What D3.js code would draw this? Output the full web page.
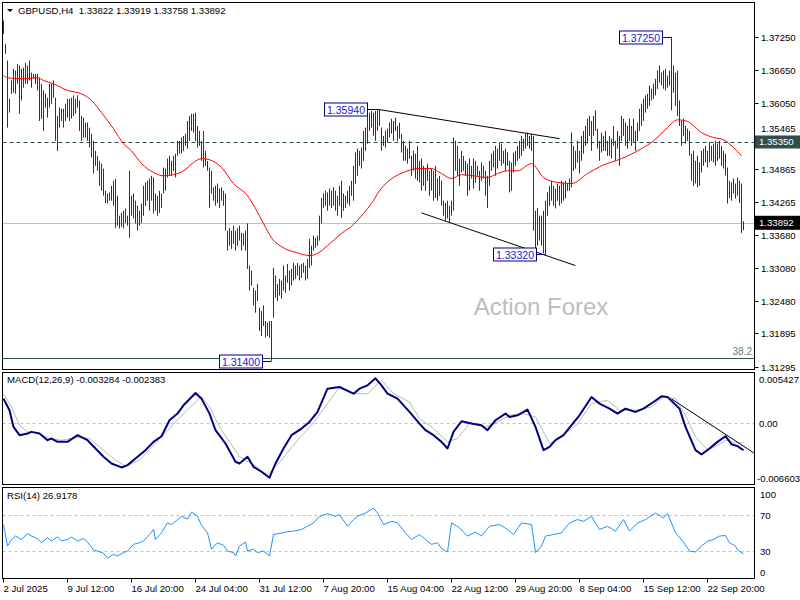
<!DOCTYPE html>
<html><head><meta charset="utf-8">
<script src="https://cdn.jsdelivr.net/npm/d3@7"></script>
<style>
body{margin:0;background:#fff}
svg{display:block}
text{font-family:"Liberation Sans",Arial,sans-serif}
</style>
</head><body>
<svg id="c" width="800" height="600"></svg>
<script>
// ---------------- DATA ----------------
const symbol = "GBPUSD,H4";
const lastOHLC = ["1.33822","1.33919","1.33758","1.33892"];
const highs = [
1.3754,1.3712,1.3682,1.3613,1.3646,1.3667,1.3664,1.3676,1.3673,1.3667,
1.3669,1.3678,1.3673,1.3682,1.3660,1.3658,1.3658,1.3658,1.3651,1.3640,
1.3628,1.3622,1.3615,1.3640,1.3640,1.3646,1.3615,1.3582,1.3597,1.3595,
1.3595,1.3604,1.3613,1.3613,1.3615,1.3619,1.3613,1.3619,1.3610,1.3582,
1.3579,1.3570,1.3570,1.3561,1.3550,1.3537,1.3519,1.3510,1.3501,1.3496,
1.3487,1.3447,1.3442,1.3444,1.3456,1.3465,1.3469,1.3438,1.3402,1.3407,
1.3411,1.3415,1.3402,1.3483,1.3438,1.3442,1.3429,1.3420,1.3411,1.3424,
1.3456,1.3462,1.3465,1.3469,1.3474,1.3471,1.3442,1.3438,1.3447,1.3442,
1.3489,1.3487,1.3505,1.3510,1.3501,1.3510,1.3514,1.3537,1.3537,1.3543,
1.3546,1.3550,1.3573,1.3582,1.3586,1.3586,1.3588,1.3564,1.3555,1.3537,
1.3555,1.3519,1.3501,1.3489,1.3483,1.3453,1.3456,1.3460,1.3451,1.3453,
1.3447,1.3442,1.3375,1.3380,1.3375,1.3384,1.3375,1.3379,1.3384,1.3371,
1.3370,1.3375,1.3388,1.3312,1.3303,1.3272,1.3267,1.3279,1.3236,1.3230,
1.3240,1.3212,1.3209,1.3212,1.3212,1.3308,1.3294,1.3279,1.3288,1.3285,
1.3312,1.3294,1.3315,1.3303,1.3306,1.3317,1.3312,1.3317,1.3312,1.3315,
1.3317,1.3312,1.3324,1.3360,1.3348,1.3366,1.3362,1.3366,1.3402,1.3434,
1.3442,1.3447,1.3444,1.3451,1.3447,1.3453,1.3447,1.3438,1.3456,1.3465,
1.3442,1.3438,1.3447,1.3456,1.3465,1.3492,1.3516,1.3523,1.3519,1.3525,
1.3555,1.3561,1.3586,1.3588,1.3591,1.3588,1.3591,1.3594,1.3593,1.3561,
1.3546,1.3555,1.3559,1.3570,1.3577,1.3573,1.3579,1.3564,1.3570,1.3550,
1.3537,1.3528,1.3523,1.3537,1.3510,1.3519,1.3514,1.3528,1.3501,1.3505,
1.3492,1.3487,1.3496,1.3483,1.3487,1.3483,1.3492,1.3469,1.3474,1.3465,
1.3429,1.3425,1.3429,1.3420,1.3429,1.3543,1.3537,1.3528,1.3505,1.3519,
1.3510,1.3501,1.3496,1.3505,1.3492,1.3505,1.3501,1.3492,1.3483,1.3498,
1.3492,1.3483,1.3474,1.3501,1.3514,1.3519,1.3528,1.3523,1.3534,1.3532,
1.3519,1.3523,1.3516,1.3501,1.3498,1.3516,1.3519,1.3528,1.3537,1.3546,
1.3541,1.3550,1.3552,1.3546,1.3550,1.3546,1.3411,1.3416,1.3402,1.3402,
1.3411,1.3429,1.3444,1.3456,1.3465,1.3456,1.3451,1.3460,1.3456,1.3465,
1.3462,1.3465,1.3460,1.3469,1.3552,1.3528,1.3519,1.3537,1.3519,1.3546,
1.3555,1.3564,1.3577,1.3582,1.3573,1.3582,1.3592,1.3559,1.3537,1.3552,
1.3546,1.3555,1.3537,1.3546,1.3541,1.3564,1.3537,1.3555,1.3546,1.3582,
1.3577,1.3570,1.3564,1.3577,1.3564,1.3577,1.3555,1.3570,1.3595,1.3604,
1.3613,1.3619,1.3622,1.3637,1.3631,1.3640,1.3649,1.3664,1.3673,1.3660,
1.3664,1.3667,1.3655,1.3664,1.3725,1.3673,1.3660,1.3664,1.3610,1.3573,
1.3577,1.3564,1.3559,1.3555,1.3514,1.3519,1.3501,1.3510,1.3498,1.3519,
1.3523,1.3528,1.3519,1.3534,1.3528,1.3532,1.3537,1.3532,1.3537,1.3528,
1.3519,1.3514,1.3489,1.3465,1.3462,1.3469,1.3460,1.3471,1.3465,1.3460,
1.33919];
const lows = [
1.3730,1.3694,1.3561,1.3588,1.3622,1.3624,1.3622,1.3640,1.3586,1.3610,
1.3633,1.3640,1.3640,1.3646,1.3633,1.3649,1.3640,1.3628,1.3573,1.3577,
1.3555,1.3597,1.3579,1.3597,1.3604,1.3615,1.3537,1.3519,1.3561,1.3573,
1.3561,1.3573,1.3579,1.3573,1.3577,1.3582,1.3586,1.3597,1.3555,1.3537,
1.3543,1.3543,1.3537,1.3525,1.3507,1.3478,1.3492,1.3483,1.3456,1.3447,
1.3438,1.3425,1.3424,1.3429,1.3429,1.3420,1.3380,1.3384,1.3379,1.3382,
1.3379,1.3389,1.3384,1.3362,1.3402,1.3397,1.3388,1.3375,1.3384,1.3389,
1.3402,1.3420,1.3429,1.3411,1.3429,1.3406,1.3411,1.3402,1.3407,1.3416,
1.3442,1.3447,1.3471,1.3474,1.3474,1.3483,1.3471,1.3510,1.3514,1.3514,
1.3519,1.3528,1.3523,1.3537,1.3555,1.3552,1.3537,1.3525,1.3528,1.3501,
1.3489,1.3492,1.3483,1.3416,1.3442,1.3429,1.3420,1.3425,1.3416,1.3429,
1.3420,1.3375,1.3339,1.3348,1.3342,1.3351,1.3339,1.3348,1.3357,1.3339,
1.3348,1.3339,1.3306,1.3267,1.3276,1.3240,1.3227,1.3248,1.3194,1.3185,
1.3203,1.3182,1.3185,1.3182,1.3140,1.3218,1.3254,1.3248,1.3258,1.3252,
1.3267,1.3263,1.3281,1.3267,1.3276,1.3285,1.3288,1.3294,1.3285,1.3290,
1.3299,1.3285,1.3288,1.3308,1.3312,1.3339,1.3344,1.3348,1.3357,1.3388,
1.3416,1.3420,1.3411,1.3420,1.3416,1.3420,1.3411,1.3402,1.3420,1.3398,
1.3411,1.3416,1.3424,1.3420,1.3438,1.3429,1.3460,1.3474,1.3492,1.3487,
1.3501,1.3519,1.3532,1.3555,1.3561,1.3546,1.3537,1.3555,1.3564,1.3519,
1.3528,1.3525,1.3534,1.3543,1.3550,1.3537,1.3555,1.3537,1.3541,1.3516,
1.3501,1.3501,1.3496,1.3505,1.3474,1.3483,1.3469,1.3465,1.3462,1.3447,
1.3456,1.3447,1.3465,1.3438,1.3447,1.3429,1.3434,1.3429,1.3438,1.3420,
1.3402,1.3393,1.3397,1.3389,1.3402,1.3411,1.3483,1.3474,1.3456,1.3480,
1.3483,1.3474,1.3438,1.3447,1.3469,1.3451,1.3462,1.3474,1.3447,1.3465,
1.3469,1.3438,1.3416,1.3456,1.3483,1.3489,1.3474,1.3487,1.3501,1.3492,
1.3496,1.3483,1.3492,1.3444,1.3447,1.3480,1.3492,1.3501,1.3505,1.3510,
1.3519,1.3523,1.3528,1.3523,1.3519,1.3375,1.3334,1.3348,1.3357,1.3348,
1.3334,1.3332,1.3402,1.3420,1.3429,1.3420,1.3415,1.3429,1.3420,1.3424,
1.3429,1.3433,1.3447,1.3447,1.3453,1.3483,1.3487,1.3498,1.3478,1.3501,
1.3514,1.3528,1.3532,1.3546,1.3519,1.3546,1.3555,1.3523,1.3501,1.3516,
1.3519,1.3519,1.3510,1.3510,1.3505,1.3528,1.3501,1.3523,1.3492,1.3537,
1.3546,1.3528,1.3523,1.3537,1.3528,1.3534,1.3519,1.3537,1.3555,1.3564,
1.3573,1.3588,1.3595,1.3600,1.3610,1.3613,1.3619,1.3631,1.3642,1.3637,
1.3631,1.3628,1.3633,1.3637,1.3592,1.3624,1.3600,1.3582,1.3564,1.3528,
1.3546,1.3532,1.3537,1.3510,1.3465,1.3456,1.3460,1.3453,1.3456,1.3480,
1.3492,1.3498,1.3489,1.3498,1.3501,1.3498,1.3492,1.3501,1.3505,1.3492,
1.3487,1.3474,1.3424,1.3434,1.3429,1.3442,1.3433,1.3438,1.3425,1.3371,
1.33758];

// moving average (red) read at selected bars
const maIdx = [0,2,9,17,20,25,32,39,44,49,55,60,64,69,75,80,85,90,95,99,103,109,115,122,126,130,134,140,147,153,157,162,169,175,180,184,188,195,200,207,214,219,224,229,235,242,247,252,257,264,270,277,284,292,299,309,319,325,332,337,342,349,355,360,365,369];
const maVal = [1.3655,1.3651,1.3649,1.3651,1.3646,1.3640,1.3628,1.3622,1.3610,1.3588,1.3559,1.3532,1.3519,1.3496,1.3480,1.3474,1.3476,1.3483,1.3498,1.3505,1.3503,1.3489,1.3460,1.3438,1.3415,1.3388,1.3362,1.3344,1.3335,1.3330,1.3334,1.3348,1.3370,1.3386,1.3406,1.3424,1.3447,1.3471,1.3480,1.3487,1.3487,1.3478,1.3469,1.3476,1.3474,1.3471,1.3478,1.3483,1.3483,1.3496,1.3471,1.3462,1.3460,1.3478,1.3492,1.3505,1.3523,1.3537,1.3561,1.3575,1.3572,1.3552,1.3543,1.3539,1.3525,1.3510];

// MACD main line
const macdIdx = [0,3,5,8,12,14,18,22,24,27,32,37,42,46,50,54,59,62,66,71,75,79,83,87,90,96,99,103,106,111,116,118,122,125,129,133,136,140,144,149,153,157,162,168,175,178,182,186,189,192,197,203,208,211,215,219,222,225,229,234,239,242,246,251,253,257,262,266,270,273,276,280,284,288,294,298,303,307,311,316,320,325,329,332,338,341,346,349,353,357,361,364,367,370];
const macdVal = [0.002964,0.001557,-0.000455,-0.001460,-0.001259,-0.001058,-0.001259,-0.002064,-0.001862,-0.002265,-0.002265,-0.001460,-0.002064,-0.003070,-0.004075,-0.004879,-0.005362,-0.005081,-0.004276,-0.003271,-0.002265,-0.001581,0.000350,0.001155,0.002160,0.003649,0.002964,0.001155,-0.000857,-0.002466,-0.004678,-0.004879,-0.004075,-0.005282,-0.005885,-0.006603,-0.004879,-0.003070,-0.001460,-0.000656,0.000149,0.001356,0.004172,0.004373,0.003568,0.004172,0.004574,0.005427,0.004574,0.003568,0.002964,0.001356,-0.000053,-0.000857,-0.001460,-0.002265,-0.003070,-0.001058,0.000228,-0.000053,-0.000254,-0.000857,0.000350,0.001155,0.000752,0.000953,0.001637,-0.000455,-0.003271,-0.002868,-0.002064,-0.001460,-0.000254,0.000953,0.003166,0.002361,0.001758,0.001155,0.001758,0.001356,0.001758,0.002562,0.003246,0.003166,0.001758,-0.000455,-0.003271,-0.003794,-0.003070,-0.002265,-0.001581,-0.002546,-0.002787,-0.003284];
// MACD signal line
const sigIdx = [0,4,8,12,17,23,29,37,43,50,56,61,68,75,83,90,99,103,108,113,118,126,132,139,147,154,162,168,175,182,189,195,203,208,215,222,227,233,241,247,253,260,266,273,279,287,294,302,308,316,324,330,336,341,346,352,355,361,366,370];
const sigVal = [0.003568,0.001958,-0.000254,-0.001058,-0.001179,-0.001862,-0.002064,-0.001742,-0.001862,-0.003271,-0.004478,-0.005202,-0.004478,-0.002666,-0.000656,0.001155,0.003246,0.001958,-0.000455,-0.002265,-0.004075,-0.005202,-0.006288,-0.004478,-0.002064,-0.000254,0.002361,0.004373,0.003568,0.003568,0.005177,0.003568,0.002562,0.000551,-0.000656,-0.002265,-0.001862,-0.000053,-0.000455,0.000149,0.000953,0.001155,0.000752,-0.002466,-0.001661,-0.000053,0.002361,0.002763,0.001557,0.001557,0.001958,0.003166,0.002964,0.000953,-0.001661,-0.003271,-0.002949,-0.002064,-0.002385,-0.002383];

// RSI(14)
const rsiIdx = [0,2,4,6,9,12,14,17,19,22,24,27,29,32,34,37,40,42,45,47,50,52,55,57,60,62,65,68,70,73,75,76,79,82,84,87,89,92,94,97,99,102,104,107,110,112,115,116,118,121,122,125,127,130,133,135,138,141,145,149,152,155,158,162,166,168,172,175,177,181,185,187,190,194,197,201,204,208,211,214,217,219,222,224,228,232,236,239,243,248,252,255,259,264,266,269,271,275,279,283,287,290,294,298,302,306,310,313,317,321,326,330,332,336,340,343,346,349,352,355,358,361,363,366,367,370];
const rsiVal = [59.4,35.5,42.8,46.6,42.8,49.5,46.6,43.6,39.2,44.7,41.1,45.8,41.1,42.8,45.5,41.1,43.9,39.9,31.1,30.0,27.5,22.0,26.4,24.5,28.2,30.0,37.4,39.2,41.1,48.3,53.9,42.8,50.2,61.2,59.4,64.9,68.5,65.6,73.3,68.5,58.3,50.2,31.9,39.2,36.3,30.0,28.2,24.5,35.5,39.9,30.0,31.9,28.2,30.0,24.5,48.3,49.5,51.0,52.1,53.9,57.5,61.2,68.5,71.5,68.5,70.4,57.5,64.9,68.5,72.2,77.7,72.2,59.4,63.0,61.2,50.2,42.8,48.3,42.8,37.4,39.2,32.7,28.9,61.2,55.7,46.6,51.0,46.6,57.5,59.4,53.9,48.3,61.2,59.4,28.2,35.5,46.6,48.3,50.2,61.2,64.9,63.0,68.5,53.9,57.5,52.1,64.9,52.1,61.2,64.9,72.2,66.7,71.5,50.2,39.9,30.0,28.9,35.5,40.9,42.8,46.6,47.2,39.2,35.5,31.1,26.9];

const priceTicks = [1.37250,1.36650,1.36050,1.35465,1.34865,1.34265,1.33680,1.33080,1.32480,1.31895,1.31295];
const dateTickIdx = [0,32,64,96,128,160,192,224,256,288,320,352];
const dateLabels = ["2 Jul 2025","9 Jul 12:00","16 Jul 20:00","24 Jul 04:00","31 Jul 12:00","7 Aug 20:00","15 Aug 04:00","22 Aug 12:00","29 Aug 20:00","8 Sep 04:00","15 Sep 12:00","22 Sep 20:00"];
const markIdx = [187,334,271,134];
const markPrice = [1.35940,1.37250,1.33320,1.31400];
const markText = ["1.35940","1.37250","1.33320","1.31400"];
const resistLevel = 1.35350, resistText = "1.35350";
const fibLevel = 1.31450, fibText = "38.2";
const lastText = "1.33892";
const upperTrendIdx = [187,278], upperTrendPrice = [1.3594,1.3541];
const lowerTrendIdx = [209,286], lowerTrendPrice = [1.3407,1.3312];
const macdTrendIdx = [334,375.5], macdTrendVal = [0.00293,-0.00366];
const macdRange = [-0.006603,0.005427];
const macdTickVal = [0.005427,0,-0.006603], macdTickText = ["0.005427","0.00","-0.006603"];
const rsiTickVal = [100,70,30,0];
const rsiLevels = [70,30];
const macdTitle = "MACD(12,26,9) -0.003284 -0.002383";
const rsiTitle = "RSI(14) 26.9178";
const watermark = "Action Forex";

// ---------------- DRAW ----------------
const svg = d3.select("#c");
svg.append("rect").attr("width",800).attr("height",600).attr("fill","#fff");

const L = 2.5, R = 754.5;
const P = {top:2.5, bot:369.5}, M = {top:372.5, bot:484.5}, S = {top:487.5, bot:578.5};

const x = d3.scaleLinear().domain([0,370]).range([3.5,743.5]);
const yP = d3.scaleLinear().domain([1.31295,1.37250]).range([366.7,36.7]);
const yM = d3.scaleLinear().domain(macdRange).range([477.7,378.3]);
const yR = d3.scaleLinear().domain([0,100]).range([578,488]);

const defs = svg.append("defs");
[["cp",P],["cm",M],["cr",S]].forEach(([id,b])=>{
  defs.append("clipPath").attr("id",id).append("rect")
    .attr("x",L).attr("y",b.top).attr("width",R-L).attr("height",b.bot-b.top);
});

// ---- main panel ----
const gP = svg.append("g").attr("clip-path","url(#cp)");
gP.append("text").attr("x",(475+607)/2).attr("y",315).attr("text-anchor","middle")
  .attr("font-size",24).attr("fill","#bdbdbd").text(watermark);

// fib level
gP.append("line").attr("x1",L).attr("x2",R).attr("y1",Math.round(yP(fibLevel))+0.5).attr("y2",Math.round(yP(fibLevel))+0.5)
  .attr("stroke","#2f4f4f").attr("stroke-width",1);
gP.append("text").attr("x",752).attr("y",yP(fibLevel)-3).attr("text-anchor","end")
  .attr("font-size",10).attr("fill","#5f7f7f").text(fibText);
// resistance dashed
gP.append("line").attr("x1",L).attr("x2",R).attr("y1",Math.round(yP(resistLevel))+0.5).attr("y2",Math.round(yP(resistLevel))+0.5)
  .attr("stroke","#2f4f4f").attr("stroke-dasharray","4,3");
// current price line
gP.append("line").attr("x1",L).attr("x2",R).attr("y1",Math.round(yP(+lastText))+0.5).attr("y2",Math.round(yP(+lastText))+0.5)
  .attr("stroke","#c0c0c0");

// bars
gP.append("g").selectAll("line").data(highs).join("line")
  .attr("x1",(d,i)=>x(i)).attr("x2",(d,i)=>x(i))
  .attr("y1",d=>yP(d)).attr("y2",(d,i)=>yP(lows[i]))
  .attr("stroke","#123c5c").attr("stroke-width",1);

// MA
gP.append("path").datum(maIdx.map((d,i)=>[d,maVal[i]]))
  .attr("d",d3.line().x(d=>x(d[0])).y(d=>yP(d[1])).curve(d3.curveMonotoneX))
  .attr("fill","none").attr("stroke","#ff0000").attr("stroke-width",1);

// trend lines
[[upperTrendIdx,upperTrendPrice],[lowerTrendIdx,lowerTrendPrice]].forEach(([ii,pp])=>{
  gP.append("line").attr("x1",x(ii[0])).attr("y1",yP(pp[0])).attr("x2",x(ii[1])).attr("y2",yP(pp[1]))
    .attr("stroke","#000").attr("stroke-width",1);
});

// marked price labels
markIdx.forEach((mi,k)=>{
  const yy = Math.round(yP(markPrice[k]))+0.5;
  const bx = Math.round(x(mi))-9.5;
  gP.append("line").attr("x1",bx).attr("x2",x(mi)).attr("y1",yy).attr("y2",yy).attr("stroke","#000080");
  gP.append("rect").attr("x",bx-43).attr("y",yy-6.5).attr("width",43).attr("height",13)
    .attr("fill","#fff").attr("stroke","#000080");
  gP.append("text").attr("x",bx-21.5).attr("y",yy+4).attr("text-anchor","middle")
    .attr("font-size",10.5).attr("fill","#1a1acd").text(markText[k]);
});

// title
svg.append("path").attr("d","M7,9 L13,9 L10,12 Z").attr("fill","#000");
svg.append("text").attr("x",18).attr("y",14).attr("font-size",9.6).attr("fill","#000")
  .attr("xml:space","preserve").text(symbol+"  "+lastOHLC.join(" "));

// price axis
const pa = svg.append("g");
const resistY = yP(resistLevel);
priceTicks.forEach(v=>{
  const yy = Math.round(yP(v))+0.5;
  // a label that sits right under the level box is nudged up so it stays readable
  const ty = Math.abs(yy - resistY) < 9 ? resistY - 9.5 : yy + 3.5;
  pa.append("line").attr("x1",R).attr("x2",R+4).attr("y1",yy).attr("y2",yy).attr("stroke","#000");
  pa.append("text").attr("x",761).attr("y",ty).attr("font-size",9.6).attr("fill","#000").text(d3.format(".5f")(v));
});
// level boxes on the axis
{
  pa.append("rect").attr("x",755).attr("y",resistY-6.5).attr("width",45).attr("height",13).attr("fill","#2f4f4f");
  pa.append("text").attr("x",759).attr("y",resistY+3.5).attr("font-size",9.6).attr("fill","#fff").text(resistText);
  const yc = yP(+lastText);
  pa.append("rect").attr("x",755).attr("y",yc-7).attr("width",45).attr("height",14).attr("fill","#000");
  pa.append("text").attr("x",759).attr("y",yc+3.5).attr("font-size",9.6).attr("fill","#fff").text(lastText);
}

// ---- MACD panel ----
const gM = svg.append("g").attr("clip-path","url(#cm)");
gM.append("line").attr("x1",L).attr("x2",R).attr("y1",Math.round(yM(0))+0.5).attr("y2",Math.round(yM(0))+0.5)
  .attr("stroke","#c0c0c0").attr("stroke-dasharray","3,3");
gM.append("path").datum(sigIdx.map((d,i)=>[d,sigVal[i]]))
  .attr("d",d3.line().x(d=>x(d[0])).y(d=>yM(d[1])))
  .attr("fill","none").attr("stroke","#b8b8b8").attr("stroke-width",1);
gM.append("path").datum(macdIdx.map((d,i)=>[d,macdVal[i]]))
  .attr("d",d3.line().x(d=>x(d[0])).y(d=>yM(d[1])))
  .attr("fill","none").attr("stroke","#000080").attr("stroke-width",2).attr("stroke-linejoin","round");
gM.append("line").attr("x1",x(macdTrendIdx[0])).attr("y1",yM(macdTrendVal[0]))
  .attr("x2",x(macdTrendIdx[1])).attr("y2",yM(macdTrendVal[1])).attr("stroke","#000");
svg.append("text").attr("x",7).attr("y",383).attr("font-size",9.6).attr("fill","#000").text(macdTitle);
macdTickVal.forEach((v,k)=>{
  const yy = k===0 ? 379 : (k===2 ? 478.5 : yM(v));
  svg.append("text").attr("x",k===2?757:759).attr("y",yy+3.5).attr("font-size",9.6).attr("fill","#000").text(macdTickText[k]);
});

// ---- RSI panel ----
const gR = svg.append("g").attr("clip-path","url(#cr)");
rsiLevels.forEach(v=>{
  gR.append("line").attr("x1",L).attr("x2",R).attr("y1",Math.round(yR(v))+0.5).attr("y2",Math.round(yR(v))+0.5)
    .attr("stroke","#c0c0c0").attr("stroke-dasharray","3,3");
});
gR.append("path").datum(rsiIdx.map((d,i)=>[d,rsiVal[i]]))
  .attr("d",d3.line().x(d=>x(d[0])).y(d=>yR(d[1])))
  .attr("fill","none").attr("stroke","#1e90ff").attr("stroke-width",1);
svg.append("text").attr("x",7).attr("y",499).attr("font-size",9.6).attr("fill","#000").text(rsiTitle);
rsiTickVal.forEach(v=>{
  const yy = v===100 ? 494 : (v===0 ? 572 : yR(v));
  svg.append("text").attr("x",760).attr("y",yy+3.5).attr("font-size",9.6).attr("fill","#000").text(v);
});

// frames
[P,M,S].forEach(b=>{
  svg.append("rect").attr("x",L).attr("y",b.top).attr("width",R-L).attr("height",b.bot-b.top)
    .attr("fill","none").attr("stroke","#000").attr("stroke-width",1);
});

// date axis
dateTickIdx.forEach((di,k)=>{
  const xx = Math.round(x(di))-0.5;
  svg.append("line").attr("x1",xx).attr("x2",xx).attr("y1",S.bot).attr("y2",S.bot+4).attr("stroke","#000");
  svg.append("text").attr("x",xx).attr("y",592).attr("font-size",9.6).attr("fill","#000").text(dateLabels[k]);
});
</script>
</body></html>
